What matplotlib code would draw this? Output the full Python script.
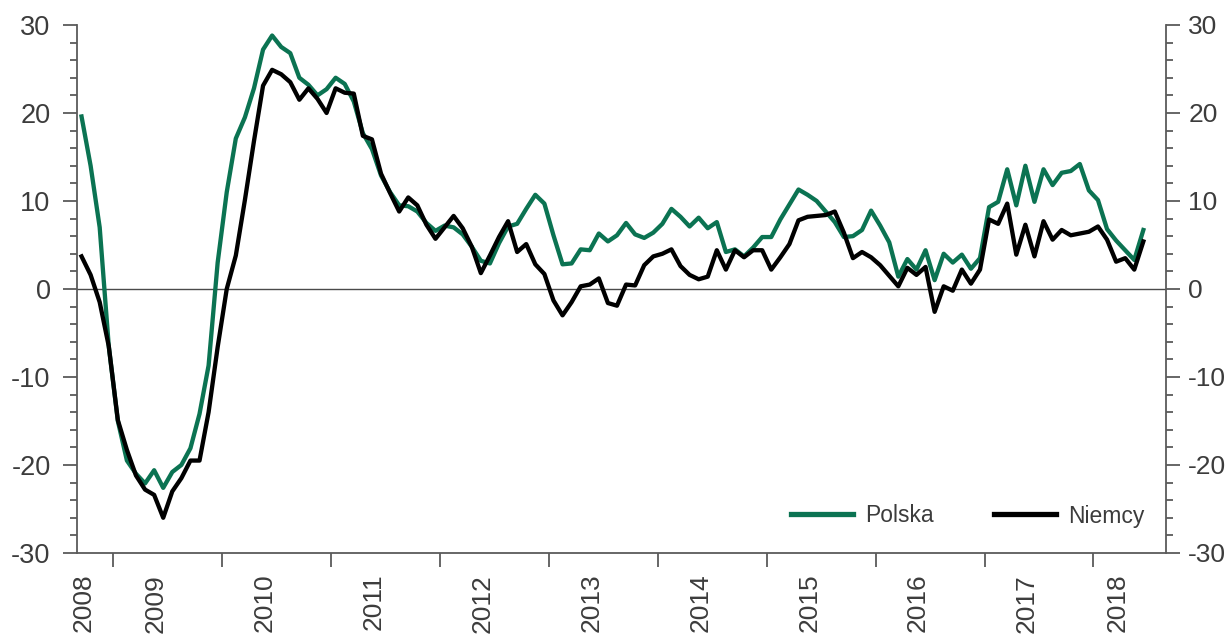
import matplotlib
matplotlib.use('Agg')
import matplotlib.pyplot as plt
import numpy as np

# monthly y/y values, Sep 2008 - Jun 2018
polska = [
    19.6, 14.0, 7.0, -6.5,
    -15.0, -19.5, -21.0, -22.1, -20.6, -22.6, -20.8, -20.0, -18.1, -14.2, -8.7, 3.0,
    11.0, 17.1, 19.5, 22.8, 27.2, 28.8, 27.5, 26.8, 24.0, 23.2, 22.0, 22.7,
    24.0, 23.3, 21.3, 17.7, 15.9, 12.9, 11.0, 9.5, 9.4, 8.8, 7.5, 6.6,
    7.2, 7.0, 6.2, 4.8, 3.2, 2.9, 5.2, 7.1, 7.4, 9.1, 10.7, 9.7,
    6.1, 2.8, 2.9, 4.5, 4.4, 6.3, 5.4, 6.1, 7.5, 6.2, 5.8, 6.4,
    7.4, 9.1, 8.2, 7.1, 8.1, 6.9, 7.6, 4.2, 4.5, 3.7, 4.7, 5.9,
    5.9, 7.9, 9.6, 11.3, 10.7, 10.0, 8.8, 7.6, 5.9, 6.0, 6.7, 8.9,
    7.2, 5.3, 1.4, 3.4, 2.2, 4.4, 1.0, 4.0, 3.0, 3.9, 2.3, 3.5,
    9.3, 9.9, 13.6, 9.5, 14.0, 9.9, 13.6, 11.8, 13.2, 13.4, 14.2, 11.2,
    10.1, 6.8, 5.5, 4.4, 3.3, 6.7,
]
niemcy = [
    3.7, 1.6, -1.5, -6.5,
    -14.9, -18.3, -21.2, -22.8, -23.4, -26.0, -23.0, -21.5, -19.5, -19.5, -14.0, -6.6,
    0.0, 3.8, 10.1, 16.8, 23.1, 24.9, 24.4, 23.5, 21.5, 22.8, 21.6, 20.0,
    22.8, 22.3, 22.2, 17.4, 17.0, 13.1, 10.9, 8.8, 10.4, 9.5, 7.3, 5.7,
    7.0, 8.3, 6.9, 4.8, 1.8, 3.8, 5.9, 7.7, 4.2, 5.1, 2.8, 1.7,
    -1.3, -3.0, -1.5, 0.3, 0.5, 1.2, -1.6, -1.9, 0.5, 0.4, 2.7, 3.7,
    4.0, 4.5, 2.6, 1.6, 1.1, 1.4, 4.4, 2.2, 4.4, 3.6, 4.4, 4.4,
    2.2, 3.6, 5.1, 7.8, 8.2, 8.3, 8.4, 8.8, 6.4, 3.5, 4.2, 3.6,
    2.7, 1.5, 0.3, 2.4, 1.6, 2.5, -2.6, 0.3, -0.2, 2.2, 0.6, 2.2,
    7.9, 7.4, 9.7, 3.9, 7.3, 3.7, 7.7, 5.6, 6.7, 6.1, 6.3, 6.5,
    7.1, 5.6, 3.1, 3.5, 2.2, 5.4,
]
years = [2008, 2009, 2010, 2011, 2012, 2013, 2014, 2015, 2016, 2017, 2018]
series_names = ['Polska', 'Niemcy']

plt.rcParams['font.family'] = ['Liberation Sans', 'DejaVu Sans']
plt.rcParams['axes.unicode_minus'] = False

green = '#0b7352'
axis_col = '#5a5a5a'
text_col = '#3c3c3c'

# month centres as decimal years, first month = Sep 2008
x = 2008 + (8 + np.arange(len(polska)) + 0.5) / 12
x_min, x_max = 2008 + 8 / 12, 2018 + 8 / 12

fig = plt.figure(figsize=(12.3, 6.4), dpi=100)
ax = fig.add_axes([0.0626, 0.136, 0.8854, 0.825])

ax.axhline(0, color='#4a4a4a', lw=1.0, zorder=1)
ax.plot(x, polska, color=green, lw=3.1, label=series_names[0], zorder=3)
ax.plot(x, niemcy, color='black', lw=3.1, label=series_names[1], zorder=4)

ax.set_xlim(x_min, x_max)
ax.set_ylim(-30, 30)

# y axis (left)
ax.set_yticks(range(-30, 31, 10))
ax.set_yticks(range(-30, 31, 2), minor=True)
ax.tick_params(axis='y', which='major', direction='out', length=10, width=1.3,
               color=axis_col, labelsize=19.5, labelcolor=text_col, pad=9)
ax.tick_params(axis='y', which='minor', direction='out', length=5, width=1.3,
               color=axis_col)

# x axis: ticks at year boundaries, labels inside each year segment
ax.set_xticks(years[1:])
ax.set_xticklabels([])
seg_lo = np.clip(np.array(years, dtype=float), x_min, x_max)
seg_hi = np.clip(np.array(years, dtype=float) + 1, x_min, x_max)
label_pos = (seg_lo + seg_hi) / 2 - 0.11
ax.set_xticks(label_pos, minor=True)
ax.set_xticklabels([str(y) for y in years], minor=True, rotation=90)
ax.tick_params(axis='x', which='major', direction='out', length=10, width=1.3,
               color=axis_col)
ax.tick_params(axis='x', which='minor', length=0, labelsize=19,
               labelcolor=text_col, pad=15)

for side in ['top', 'right']:
    ax.spines[side].set_visible(False)
for side in ['left', 'bottom']:
    ax.spines[side].set_color(axis_col)
    ax.spines[side].set_linewidth(1.3)

# y axis (right)
ax2 = ax.twinx()
ax2.set_ylim(-30, 30)
ax2.set_yticks(range(-30, 31, 10))
ax2.set_yticks(range(-30, 31, 2), minor=True)
ax2.tick_params(axis='y', which='major', direction='out', length=10, width=1.3,
                color=axis_col, labelsize=19, labelcolor=text_col, pad=6)
ax2.tick_params(axis='y', which='minor', direction='out', length=5, width=1.3,
                color=axis_col)
for side in ['top', 'left', 'bottom']:
    ax2.spines[side].set_visible(False)
ax2.spines['right'].set_color(axis_col)
ax2.spines['right'].set_linewidth(1.3)

leg = ax.legend(loc='center', bbox_to_anchor=(0.818, 0.07), ncol=2,
                frameon=False, fontsize=16.5, handlelength=2.7,
                handletextpad=0.55, columnspacing=2.6)
for t in leg.get_texts():
    t.set_color(text_col)
for h in leg.legend_handles:
    h.set_linewidth(3.8)

fig.savefig('out.png', dpi=100)
